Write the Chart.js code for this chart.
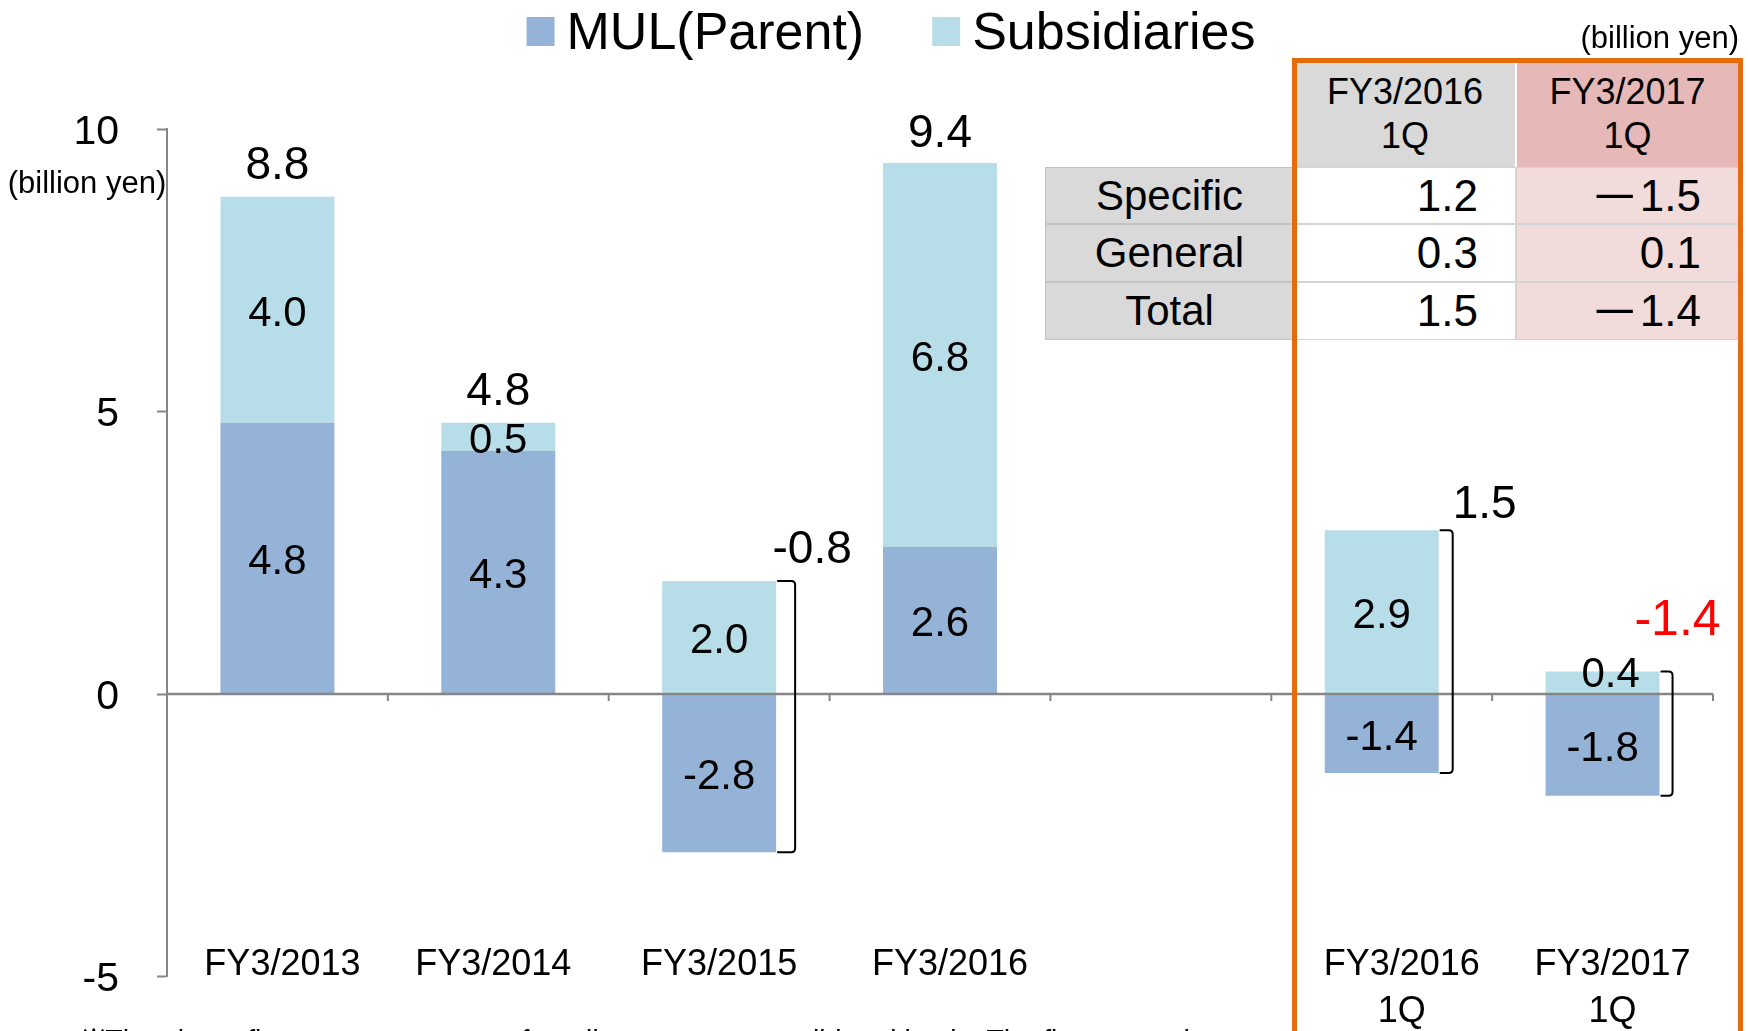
<!DOCTYPE html>
<html><head><meta charset="utf-8">
<script src="https://cdn.jsdelivr.net/npm/chart.js@4/dist/chart.umd.min.js"></script>
<style>
html,body{margin:0;padding:0;background:#fff;}
#wrap{position:relative;width:1748px;height:1031px;overflow:hidden;}
#c{position:absolute;left:0;top:0;}
.cell{position:absolute;box-sizing:border-box;display:flex;flex-direction:column;justify-content:center;font-family:'Liberation Sans',Arial,sans-serif;color:#000;}
.hdr{align-items:center;font-size:36px;line-height:44px;padding-bottom:2px;border-left:1.5px solid #fff;border-right:1.5px solid #fff;}
.lab{align-items:center;font-size:42px;background:#D9D9D9;border:1.5px solid #C3C3C3;}
.val{align-items:flex-end;font-size:44px;padding-right:37px;border:1.5px solid #D4D4D4;}
.minus{display:inline-block;transform:scaleX(1.7);transform-origin:right center;margin-right:3px;}
#frame{position:absolute;left:1292px;top:58px;width:451px;height:1000px;box-sizing:border-box;border:5px solid #E46C0A;border-bottom:none;pointer-events:none;}
</style></head><body>
<div id="wrap"><canvas id="c" width="1748" height="1031"></canvas><div id="table"></div><div id="frame"></div></div>
<script>
// ---- data ----
const categories = ['FY3/2013', 'FY3/2014', 'FY3/2015', 'FY3/2016', '', ['FY3/2016', '1Q'], ['FY3/2017', '1Q']];
const seriesNames = ['MUL(Parent)', 'Subsidiaries'];
const mulParent = [4.8, 4.3, -2.8, 2.6, null, -1.4, -1.8];
const subsidiaries = [4.0, 0.5, 2.0, 6.8, null, 2.9, 0.4];
const totals = [8.8, 4.8, -0.8, 9.4, null, 1.5, -1.4];
const yTicks = [-5, 0, 5, 10];
const tableColumns = [['FY3/2016', '1Q'], ['FY3/2017', '1Q']];
const tableRowLabels = ['Specific', 'General', 'Total'];
const tableFY2016 = ['1.2', '0.3', '1.5'];
const tableFY2017 = ['−1.5', '0.1', '−1.4'];
const unitText = '(billion yen)';
const footnote = '※The above figures are amounts of credit cost on a consolidated basis. The figures on the';

// ---- styles ----
const FONT = "'Liberation Sans', Arial, sans-serif";
const colors = ['#95B3D7', '#B7DEE8'];
const totalColors = ['#000', '#000', '#000', '#000', '#000', '#000', '#FF0000'];
const totalFont = [46, 46, 46, 46, 46, 46, 50];
const totalOffset = [[0, -35], [0, -35], [17, -35], [0, -33], null, [32, -29], [5, -55]];
const bracketGap = [15, 15, 19, 15, 15, 14, 13];
const segOffset = [[[0,0],[0,0]],[[0,0],[0,0]],[[0,0],[0,0]],[[0,0],[0,0]],[[0,0],[0,0]],[[0,0],[0,0]],[[0,0],[8,-11]]];
const labelPad = [[1, 0], [0, 1], [0, 0], [2, 0], [0, 0], [4, 0], [2, 0]];  // [leading, trailing] spaces nudging x labels
const axisGray = '#868686';
const targetBottom = 976.5;
const glyphShift = 0.1;   // canvas 'middle' baseline -> visual digit centre
let xAxisHeight = 54.5;

const overlay = {
  id: 'overlay',
  afterDatasetsDraw(chart) {
    const ctx = chart.ctx, xs = chart.scales.x, ys = chart.scales.y, ca = chart.chartArea;
    ctx.save();
    // zero line + category tick marks
    const y0 = ys.getPixelForValue(0);
    ctx.strokeStyle = axisGray; ctx.lineWidth = 2.5;
    ctx.beginPath(); ctx.moveTo(ca.left, y0); ctx.lineTo(ca.right, y0); ctx.stroke();
    const cw = xs.getPixelForValue(1) - xs.getPixelForValue(0);
    ctx.lineWidth = 2;
    for (let i = 1; i <= categories.length; i++) {
      const x = xs.getPixelForValue(i - 1) + cw / 2;
      ctx.beginPath(); ctx.moveTo(x, y0); ctx.lineTo(x, y0 + 7); ctx.stroke();
    }
    // segment labels
    ctx.fillStyle = '#000'; ctx.textAlign = 'center'; ctx.textBaseline = 'middle';
    ctx.font = '42px ' + FONT;
    chart.data.datasets.forEach((ds, di) => {
      chart.getDatasetMeta(di).data.forEach((el, i) => {
        const v = ds.data[i];
        if (v === null || v === undefined) return;
        const off = segOffset[i][di];
        ctx.fillText(v.toFixed(1), el.x + off[0], (el.y + el.base) / 2 + off[1] + 42 * glyphShift);
      });
    });
    // totals + brackets
    const m0 = chart.getDatasetMeta(0).data;
    categories.forEach((c, i) => {
      if (totals[i] === null) return;
      const vals = [mulParent[i], subsidiaries[i]];
      const pos = vals.filter(v => v > 0).reduce((a, b) => a + b, 0);
      const neg = vals.filter(v => v < 0).reduce((a, b) => a + b, 0);
      const el = m0[i];
      const right = el.x + el.width / 2;
      const yTop = ys.getPixelForValue(pos), yBot = ys.getPixelForValue(neg);
      let ax, ay;
      if (neg < 0 && pos > 0) {
        const bx = right + bracketGap[i], r = 4;
        ctx.strokeStyle = '#000'; ctx.lineWidth = 2;
        ctx.beginPath();
        ctx.moveTo(right + 1, yTop); ctx.lineTo(bx - r, yTop);
        ctx.quadraticCurveTo(bx, yTop, bx, yTop + r);
        ctx.lineTo(bx, yBot - r);
        ctx.quadraticCurveTo(bx, yBot, bx - r, yBot);
        ctx.lineTo(right + 1, yBot);
        ctx.stroke();
        ax = bx; ay = yTop;
      } else {
        ax = el.x; ay = yTop;
      }
      ctx.fillStyle = totalColors[i];
      ctx.font = totalFont[i] + 'px ' + FONT;
      ctx.fillText(totals[i].toFixed(1), ax + totalOffset[i][0], ay + totalOffset[i][1] + totalFont[i] * glyphShift);
    });
    // legend
    ctx.font = '52px ' + FONT; ctx.textAlign = 'left';
    const widths = chart.data.datasets.map(d => ctx.measureText(d.label).width);
    const total = widths.reduce((a, w) => a + 40 + w, 0) + 68;
    let lx = 891 - total / 2;
    chart.data.datasets.forEach((d, di) => {
      ctx.fillStyle = d.backgroundColor;
      ctx.fillRect(lx, 17, 28, 29);
      ctx.fillStyle = '#000';
      ctx.fillText(d.label, lx + 40, 34.5);
      lx += 40 + widths[di] + 68;
    });
    // unit labels
    ctx.font = '31px ' + FONT;
    ctx.textAlign = 'center'; ctx.fillText(unitText, 87, 184);
    ctx.textAlign = 'right'; ctx.fillText(unitText, 1739, 39);
    // footnote (cut off at the bottom edge)
    ctx.textAlign = 'left'; ctx.textBaseline = 'alphabetic';
    ctx.font = '34px ' + FONT;
    ctx.fillText(footnote, 82, 1053, 1133);
    ctx.restore();
  }
};

const chart = new Chart(document.getElementById('c'), {
  type: 'bar',
  data: {
    labels: categories,
    datasets: [
      { label: seriesNames[0], data: mulParent, backgroundColor: colors[0], borderWidth: 0, barPercentage: 0.516, categoryPercentage: 1 },
      { label: seriesNames[1], data: subsidiaries, backgroundColor: colors[1], borderWidth: 0, barPercentage: 0.516, categoryPercentage: 1 }
    ]
  },
  options: {
    responsive: false, animation: false, devicePixelRatio: 1,
    layout: { padding: { left: 0, right: 35, top: 129, bottom: 0 } },
    plugins: { legend: { display: false }, tooltip: { enabled: false } },
    scales: {
      x: {
        stacked: true, offset: true,
        grid: { display: false, drawTicks: false }, border: { display: false },
        ticks: {
          autoSkip: false, maxRotation: 0, minRotation: 0, mirror: true, padding: -12, color: '#000',
          font: { family: FONT, size: 36, lineHeight: 1.3 },
          callback: function (v, i) {
            const lab = this.getLabelForValue(v);
            const p = labelPad[i];
            const pad = s => ' '.repeat(p[0]) + s + ' '.repeat(p[1]);
            return Array.isArray(lab) ? lab.map(pad) : pad(lab);
          }
        },
        afterFit: s => { s.height = xAxisHeight; s.paddingLeft = 0; s.paddingRight = 0; }
      },
      y: {
        stacked: true, min: -5, max: 10,
        afterBuildTicks: s => { s.ticks = yTicks.map(v => ({ value: v })); },
        grid: { drawOnChartArea: false, drawTicks: true, tickLength: 10, tickColor: axisGray, tickWidth: 2 },
        border: { display: true, color: axisGray, width: 2 },
        ticks: {
          padding: 38, color: '#000', font: { family: FONT, size: 41, lineHeight: 0.16 },
          callback: v => ['', String(v)]   // blank first line nudges the label down to the glyph centre
        },
        afterFit: s => { s.width = 167; s.paddingTop = 0; s.paddingBottom = 0; }
      }
    }
  },
  plugins: [overlay]
});
for (let k = 0; k < 3; k++) {
  const d = chart.chartArea.bottom - targetBottom;
  if (Math.abs(d) < 0.3) break;
  xAxisHeight += d;
  chart.update();
}

// ---- table (HTML) ----
const tbl = document.getElementById('table');
const tx = [1045, 1294, 1516, 1739];
const ty = [63, 167, 224, 282, 340];
function cell(x0, x1, y0, y1, lines, cls, bg) {
  const d = document.createElement('div');
  d.className = 'cell ' + cls;
  d.style.left = x0 + 'px'; d.style.top = y0 + 'px';
  d.style.width = (x1 - x0) + 'px'; d.style.height = (y1 - y0) + 'px';
  if (bg) d.style.background = bg;
  lines.forEach(t => {
    const s = document.createElement('div');
    if (t.startsWith('−')) {
      const m = document.createElement('span'); m.className = 'minus'; m.textContent = '−';
      s.appendChild(m); s.appendChild(document.createTextNode(t.slice(1)));
    } else s.textContent = t;
    d.appendChild(s);
  });
  tbl.appendChild(d);
}
cell(tx[1], tx[2], ty[0], ty[1], tableColumns[0], 'hdr', '#D9D9D9');
cell(tx[2], tx[3], ty[0], ty[1], tableColumns[1], 'hdr', '#E6B9B8');
tableRowLabels.forEach((r, i) => {
  cell(tx[0], tx[1], ty[i + 1], ty[i + 2], [r], 'lab');
  cell(tx[1], tx[2], ty[i + 1], ty[i + 2], [tableFY2016[i]], 'val', '#FFFFFF');
  cell(tx[2], tx[3], ty[i + 1], ty[i + 2], [tableFY2017[i]], 'val', '#F2DCDB');
});
</script>
</body></html>
